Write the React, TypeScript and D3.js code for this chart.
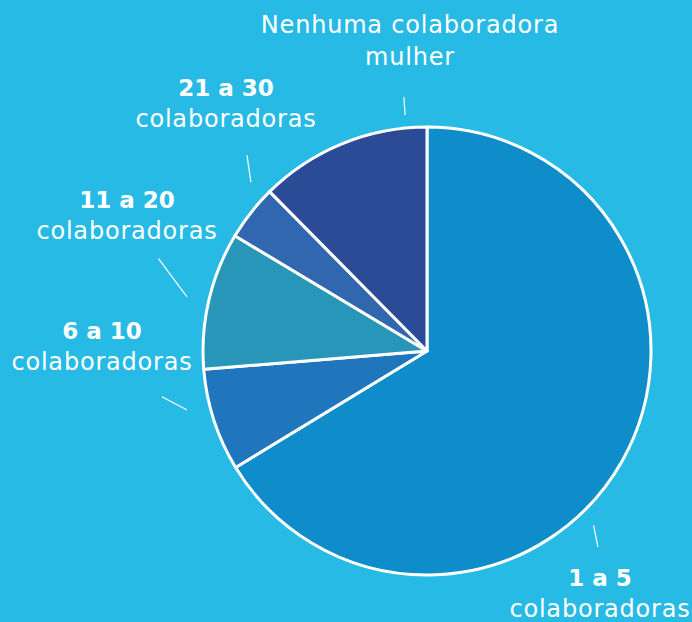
import { useEffect } from "react";
import * as d3 from "d3";

// share of companies by number of women employees (%)
const categories = ["1 a 5", "6 a 10", "11 a 20", "21 a 30", "Nenhuma"];
const values = [66.3, 7.4, 9.9, 4.0, 12.4];
const COLORS = ["#0E8DCA", "#1F76BC", "#2896B8", "#3067AF", "#2B4B97"];

// label texts: bold first line + regular second line
const labelBold = ["1 a 5", "6 a 10", "11 a 20", "21 a 30", ""];
const labelLine1 = ["", "", "", "", "Nenhuma colaboradora"];
const labelLine2 = ["colaboradoras", "colaboradoras", "colaboradoras", "colaboradoras", "mulher"];

const BG = "#27BAE4";
const W = 692;
const H = 622;
const CX = 427;
const CY = 351;
const R = 224;

// leader ticks in polar coords around the pie centre: [angle1, r1, angle2, r2] (degrees, clockwise from top)
const leaders: [number, number, number, number][] = [
  [136.3, 241, 138.9, 260],
  [-103.8, 247, -99.8, 269],
  [-77.3, 246, -71.0, 284],
  [-46.2, 244, -42.6, 266],
  [-5.3, 237, -5.2, 255],
];
// label anchor (centre of first baseline) relative to pie centre
const labelOffsets: [number, number][] = [
  [173, 235],
  [-325, -12],
  [-300, -143],
  [-201, -255],
  [-17, -318],
];

const polar = (deg: number, r: number) => {
  const a = (deg * Math.PI) / 180;
  return [Math.sin(a) * r, -Math.cos(a) * r];
};

export default function App() {
  useEffect(() => {
    document.body.style.margin = "0";
  }, []);

  const pie = d3.pie<number>().sort(null).value((d) => d);
  const arcs = pie(values);
  const arc = d3.arc<d3.PieArcDatum<number>>().innerRadius(0).outerRadius(R);

  const font = "'DejaVu Sans', sans-serif";

  return (
    <svg width={W} height={H} style={{ display: "block", background: BG }}>
      <rect width={W} height={H} fill={BG} />
      <g transform={`translate(${CX},${CY})`}>
        {arcs.map((a, i) => (
          <path key={categories[i]} d={arc(a) || ""} fill={COLORS[i]} stroke="#fff" strokeWidth={3} strokeLinejoin="round" />
        ))}
        {leaders.map((l, i) => {
          const [x1, y1] = polar(l[0], l[1]);
          const [x2, y2] = polar(l[2], l[3]);
          return <line key={i} x1={x1} y1={y1} x2={x2} y2={y2} stroke="#fff" strokeWidth={1.2} />;
        })}
        {labelOffsets.map(([dx, dy], i) => (
          <text key={i} x={dx} y={dy} textAnchor="middle" fill="#fff" fontFamily={font} fontSize={23}>
            {labelBold[i] ? (
              <tspan x={dx} y={dy} fontWeight={900}>{labelBold[i]}</tspan>
            ) : (
              <tspan x={dx} y={dy} fontSize={24} letterSpacing={0.8}>{labelLine1[i]}</tspan>
            )}
            <tspan x={dx} y={dy + (labelBold[i] ? 31 : 32)} fontSize={24} letterSpacing={0.8}>
              {labelLine2[i]}
            </tspan>
          </text>
        ))}
      </g>
    </svg>
  );
}
